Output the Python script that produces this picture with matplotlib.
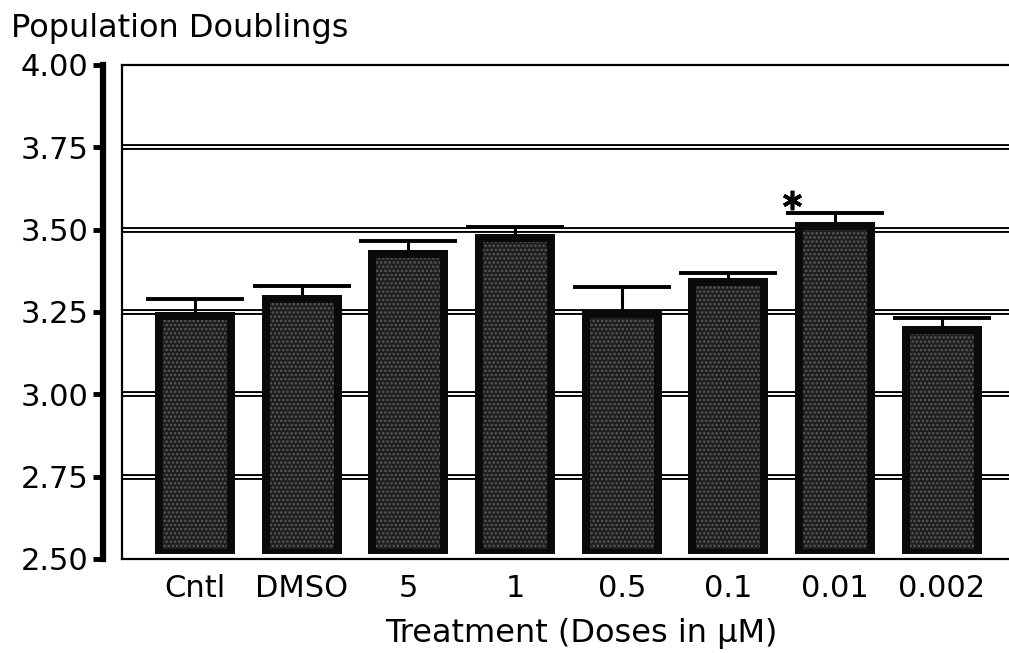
import matplotlib
matplotlib.use('Agg')
import matplotlib.pyplot as plt
import numpy as np

categories = ['Cntl', 'DMSO', '5', '1', '0.5', '0.1', '0.01', '0.002']
values = [3.250, 3.302, 3.438, 3.487, 3.256, 3.353, 3.523, 3.207]
errors = [0.039, 0.027, 0.028, 0.021, 0.070, 0.015, 0.028, 0.025]
yticks = [2.50, 2.75, 3.00, 3.25, 3.50, 3.75, 4.00]
ytick_labels = ['2.50', '2.75', '3.00', '3.25', '3.50', '3.75', '4.00']
significant = ['0.01']
title = 'Population Doublings'
xlabel = 'Treatment (Doses in µM)'

plt.rcParams['font.family'] = ['DejaVu Sans']
plt.rcParams['hatch.linewidth'] = 1.2
fig = plt.figure(figsize=(10.09, 6.53), dpi=100)
ax = fig.add_axes([0.1209, 0.144, 0.8791, 0.7565])

x = np.arange(len(categories))
vals = np.array(values)
base = 2.515
ax.set_xlim(-0.684, 7.63)
ax.set_ylim(2.5, 4.0)

# double grid lines
for g in yticks[1:-1]:
    ax.axhline(g, color='black', lw=4.2, zorder=1)
    ax.axhline(g, color='white', lw=1.4, zorder=1.1)

ax.bar(x, vals - base, bottom=base, width=0.75, color='#0a0a0a', zorder=2)
ax.bar(x, vals - base - 0.04, bottom=base + 0.015, width=0.6,
       facecolor='#1e1e1e', edgecolor='#5a5a5a', hatch='....', lw=0, zorder=3)
eb = ax.errorbar(x, vals, yerr=[np.zeros(len(x)), errors], fmt='none', ecolor='black',
                 elinewidth=2.2, capsize=35, capthick=2.8, zorder=4)
eb[1][0].set_visible(False)  # hide lower caps

for c in significant:
    i = categories.index(c)
    ax.plot(i - 0.40, vals[i] + errors[i] + 0.04, marker=(6, 2, 0), ms=14, mew=2.6,
            color='black', zorder=5, clip_on=False)

# spines
ax.spines['right'].set_visible(False)
ax.spines['top'].set_linewidth(1.6)
ax.spines['bottom'].set_linewidth(1.6)
ax.spines['left'].set_position(('outward', 14))
ax.spines['left'].set_linewidth(4.5)
ax.spines['left'].set_bounds(2.5, 4.0)
ax.axvline(-0.684, color='black', lw=1.6, zorder=6, clip_on=False)

ax.set_yticks(yticks)
ax.set_yticklabels(ytick_labels, fontsize=22)
ax.tick_params(axis='y', length=7, width=3.5, pad=3)
ax.set_xticks(x)
ax.set_xticklabels(categories, fontsize=22)
ax.tick_params(axis='x', length=0, pad=11)

fig.text(0.011, 0.944, title, fontsize=23, ha='left', va='baseline')
fig.text(0.576, 0.0168, xlabel, fontsize=23, ha='center', va='baseline')

fig.savefig('out.png', dpi=100)
